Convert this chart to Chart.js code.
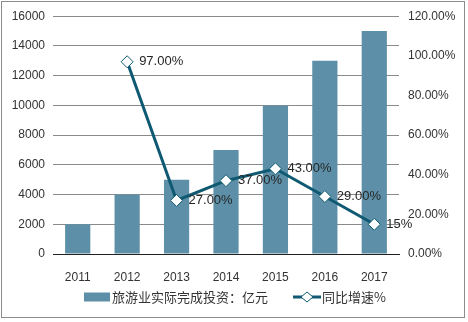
<!DOCTYPE html>
<html>
<head>
<meta charset="utf-8">
<script src="https://cdn.jsdelivr.net/npm/chart.js@4/dist/chart.umd.min.js"></script>
<style>
  html, body { margin: 0; padding: 0; background: #fff; }
  canvas { display: block; }
</style>
</head>
<body>
<canvas id="tourismChart" width="468" height="322"></canvas>
<script>
// chart data
const years = ['2011', '2012', '2013', '2014', '2015', '2016', '2017'];
const investment = [2000, 4000, 5000, 7000, 10000, 13000, 15000];
const growthRate = [null, 97, 27, 37, 43, 29, 15];
const growthLabels = ['', '97.00%', '27.00%', '37.00%', '43.00%', '29.00%', '15%'];
const barLegend = '旅游业实际完成投资：亿元';
const lineLegend = '同比增速%';

const BAR_COLOR = '#5d90a8';
const LINE_COLOR = '#0f5a72';
const TEXT_COLOR = '#333333';
const GRID_COLOR = '#8a8a8a';
const CJK_FONT = '"Noto Sans CJK SC", "Liberation Sans", sans-serif';

// frame + white background
const framePlugin = {
    id: 'frame',
    beforeDraw(chart) {
        const ctx = chart.ctx;
        ctx.save();
        ctx.fillStyle = '#fff';
        ctx.fillRect(0, 0, chart.width, chart.height);
        ctx.strokeStyle = '#8c8c8c';
        ctx.lineWidth = 1;
        ctx.strokeRect(1.5, 1.5, 463, 316);
        ctx.restore();
    }
};

// value labels next to the line points
const pointLabelPlugin = {
    id: 'pointLabels',
    afterDatasetsDraw(chart) {
        const ctx = chart.ctx;
        const meta = chart.getDatasetMeta(1);
        ctx.save();
        ctx.font = '13px "Liberation Sans", Arial, sans-serif';
        ctx.fillStyle = '#262626';
        ctx.textAlign = 'left';
        ctx.textBaseline = 'middle';
        meta.data.forEach((pt, i) => {
            if (!growthLabels[i]) return;
            ctx.fillText(growthLabels[i], pt.x + 12, pt.y);
        });
        ctx.restore();
    }
};

// legend at the bottom
const legendPlugin = {
    id: 'bottomLegend',
    afterDraw(chart) {
        const ctx = chart.ctx;
        const y = 297;
        ctx.save();
        ctx.fillStyle = BAR_COLOR;
        ctx.fillRect(84, y - 4.5, 26, 9);
        ctx.font = '13px ' + CJK_FONT;
        ctx.fillStyle = TEXT_COLOR;
        ctx.textAlign = 'left';
        ctx.textBaseline = 'middle';
        ctx.fillText(barLegend, 112, y);

        ctx.strokeStyle = LINE_COLOR;
        ctx.lineWidth = 3;
        ctx.beginPath();
        ctx.moveTo(293, y);
        ctx.lineTo(321, y);
        ctx.stroke();
        ctx.fillStyle = '#fff';
        ctx.lineWidth = 1;
        ctx.beginPath();
        ctx.moveTo(301, y);
        ctx.lineTo(307, y - 5);
        ctx.lineTo(313, y);
        ctx.lineTo(307, y + 5);
        ctx.closePath();
        ctx.fill();
        ctx.stroke();

        ctx.fillStyle = TEXT_COLOR;
        ctx.fillText(lineLegend, 322, y);
        ctx.restore();
    }
};

const tickFont = { family: '"Liberation Sans", Arial, sans-serif', size: 12 };

new Chart(document.getElementById('tourismChart').getContext('2d'), {
    type: 'bar',
    data: {
        labels: years,
        datasets: [
            {
                type: 'bar',
                label: barLegend,
                data: investment,
                backgroundColor: BAR_COLOR,
                categoryPercentage: 1,
                barPercentage: 0.51,
                yAxisID: 'y',
                order: 2
            },
            {
                type: 'line',
                label: lineLegend,
                data: growthRate,
                borderColor: LINE_COLOR,
                borderWidth: 3,
                pointStyle: 'rectRot',
                pointRadius: 6,
                pointBackgroundColor: '#fff',
                pointBorderColor: LINE_COLOR,
                pointBorderWidth: 1,
                tension: 0,
                spanGaps: false,
                yAxisID: 'y1',
                order: 1
            }
        ]
    },
    options: {
        responsive: false,
        animation: false,
        layout: { padding: { top: 16, left: 0, right: 0, bottom: 0 } },
        plugins: {
            legend: { display: false },
            tooltip: { enabled: false }
        },
        scales: {
            x: {
                grid: { display: false },
                border: { display: true, color: '#222', width: 1 },
                ticks: { color: TEXT_COLOR, font: tickFont, padding: 8, maxRotation: 0 },
                afterFit(scale) { scale.height = 68; }
            },
            y: {
                position: 'left',
                min: 0,
                max: 16000,
                border: { display: false },
                grid: {
                    drawTicks: false,
                    color: ctx => ctx.tick && ctx.tick.value === 0 ? '#222' : GRID_COLOR
                },
                ticks: {
                    stepSize: 2000,
                    color: TEXT_COLOR,
                    font: tickFont,
                    padding: 8,
                    callback: v => String(v)
                },
                afterFit(scale) { scale.width = 53; }
            },
            y1: {
                position: 'right',
                min: 0,
                max: 120,
                border: { display: false },
                grid: { display: false, drawTicks: false },
                ticks: {
                    stepSize: 20,
                    color: TEXT_COLOR,
                    font: tickFont,
                    padding: 9,
                    callback: v => v.toFixed(2) + '%'
                },
                afterFit(scale) { scale.width = 69; }
            }
        }
    },
    plugins: [framePlugin, pointLabelPlugin, legendPlugin]
});
</script>
</body>
</html>
